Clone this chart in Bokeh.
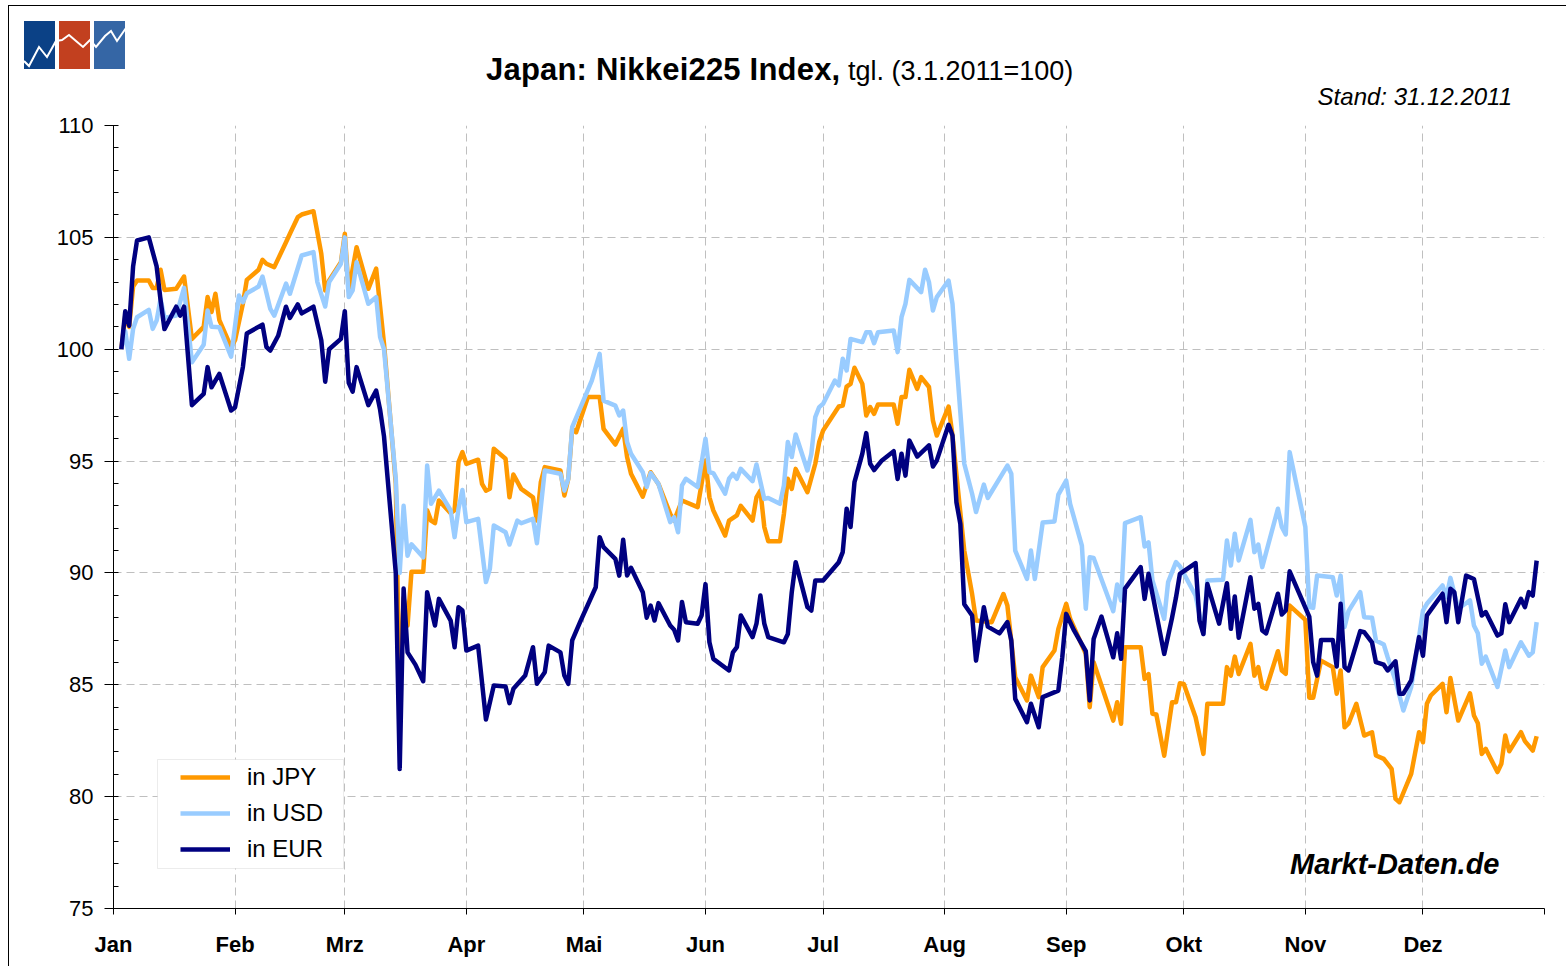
import pandas as pd
from bokeh.plotting import figure
from bokeh.layouts import column, row
from bokeh.models import (Range1d, FixedTicker, Label, Legend, LegendItem,
                          BoxAnnotation, Div, Spacer)
from bokeh.embed import file_html
from bokeh.resources import INLINE

# ---------------- data (day offset from 1 Jan 2011, index 3.1.2011 = 100) ----------------
months = ["Jan", "Feb", "Mrz", "Apr", "Mai", "Jun", "Jul", "Aug", "Sep", "Okt", "Nov", "Dez"]
y_ticks = [75, 80, 85, 90, 95, 100, 105, 110]
series_names = ["in JPY", "in USD", "in EUR"]

jpy_day = [2, 3, 4, 5, 6, 9, 10, 11, 12, 13,
           16, 18, 20, 23, 24, 25, 26, 27, 30, 31,
           33, 34, 37, 38, 39, 41, 44, 45, 47, 48,
           51, 53, 54, 55, 58, 59, 60, 62, 65, 67,
           69, 72, 73, 74, 75, 76, 79, 80, 81, 82,
           83, 86, 87, 88, 89, 90, 93, 94, 95, 96,
           97, 100, 101, 102, 104, 107, 108, 109, 110, 114,
           115, 116, 117, 118, 121, 124, 125, 128, 130, 131,
           132, 135, 137, 139, 142, 143, 145, 149, 151, 152,
           153, 156, 157, 159, 160, 163, 164, 165, 166, 167,
           170, 171, 172, 173, 174, 177, 179, 180, 181, 185,
           186, 187, 188, 189, 191, 192, 193, 194, 195, 199,
           200, 201, 202, 203, 205, 206, 208, 209, 210, 213,
           214, 215, 217, 219, 220, 224, 227, 228, 230, 233,
           234, 236, 237, 240, 241, 243, 244, 248, 249, 250,
           255, 256, 257, 258, 262, 263, 264, 265, 266, 268,
           270, 271, 272, 273, 276, 278, 279, 283, 284, 285,
           286, 287, 290, 291, 292, 293, 294, 297, 298, 299,
           300, 304, 305, 306, 308, 311, 312, 313, 314, 315,
           317, 319, 321, 322, 324, 326, 327, 328, 331, 333,
           334, 335, 336, 339, 340, 341, 343, 346, 347, 348,
           349, 350, 353, 354, 355, 356, 359, 360, 362, 363]
jpy_val = [100.0, 101.5, 101.0, 102.8, 103.07, 103.07, 102.74, 102.74, 103.55, 102.65,
           102.7, 103.25, 100.46, 101.0, 102.33, 101.66, 102.48, 101.3, 100.09, 100.4,
           102.03, 103.1, 103.55, 104.0, 103.82, 103.67, 104.78, 105.16, 105.9, 106.02,
           106.17, 104.27, 102.62, 103.07, 103.89, 105.16, 102.62, 104.56, 102.7, 103.6,
           100.24, 94.0, 84.1, 88.9, 87.65, 90.05, 90.05, 92.8, 92.34, 92.23,
           93.24, 92.67, 92.8, 94.95, 95.4, 94.88, 95.06, 93.98, 93.68, 93.76,
           95.55, 95.1, 93.38, 94.4, 93.76, 93.38, 92.34, 94.06, 94.73, 94.58,
           93.46, 94.21, 96.44, 96.29, 97.86, 97.86, 96.44, 95.74, 96.44, 95.18,
           94.43, 93.41, 94.5, 93.98, 92.64, 92.34, 93.24, 92.94, 95.03, 93.38,
           92.79, 91.67, 92.34, 92.57, 93.0, 92.34, 93.38, 93.68, 92.05, 91.42,
           91.42, 92.64, 94.21, 93.76, 94.65, 93.61, 94.88, 95.85, 96.37, 97.44,
           97.48, 98.33, 98.45, 99.17, 98.45, 97.04, 97.41, 97.11, 97.53, 97.53,
           96.67, 97.86, 97.86, 99.08, 98.23, 98.75, 98.31, 96.82, 96.14, 97.44,
           96.14, 94.4, 91.0, 89.06, 87.87, 87.8, 89.06, 88.54, 85.34, 84.3,
           85.41, 84.45, 85.79, 86.53, 87.5, 88.62, 87.95, 86.38, 84.0, 86.01,
           83.4, 84.22, 83.26, 86.68, 86.68, 85.26, 85.48, 83.7, 83.67, 81.83,
           84.22, 84.22, 85.07, 85.04, 83.55, 81.91, 84.15, 84.15, 85.79, 85.41,
           86.26, 85.48, 86.83, 85.41, 85.79, 84.9, 84.82, 86.5, 85.64, 85.49,
           88.54, 87.9, 84.42, 84.42, 86.08, 85.79, 84.6, 85.64, 83.1, 83.26,
           84.15, 82.73, 82.88, 81.84, 81.69, 81.24, 79.9, 79.75, 81.02, 82.88,
           82.43, 84.15, 84.52, 85.04, 83.77, 85.3, 83.4, 84.62, 83.63, 83.28,
           81.91, 82.14, 81.1, 81.47, 82.73, 82.03, 82.88, 82.48, 82.06, 82.7]

usd_day = [2, 3, 4, 5, 6, 9, 10, 11, 12, 13,
           16, 18, 20, 23, 24, 25, 27, 30, 32, 33,
           34, 37, 38, 40, 41, 44, 45, 48, 51, 52,
           54, 55, 58, 59, 60, 61, 62, 65, 67, 68,
           69, 72, 73, 74, 75, 76, 79, 80, 81, 83,
           86, 87, 88, 89, 90, 93, 95, 96, 97, 100,
           101, 103, 104, 107, 108, 110, 114, 115, 116, 117,
           122, 124, 125, 128, 129, 130, 131, 132, 135, 136,
           137, 139, 142, 143, 144, 145, 146, 149, 151, 152,
           153, 156, 157, 158, 159, 160, 163, 164, 166, 167,
           170, 171, 172, 173, 174, 177, 178, 179, 180, 181,
           184, 185, 186, 187, 188, 191, 192, 193, 194, 195,
           199, 200, 201, 202, 203, 206, 207, 208, 209, 210,
           213, 214, 215, 217, 219, 220, 222, 223, 228, 229,
           230, 233, 234, 235, 237, 240, 241, 243, 244, 247,
           248, 249, 250, 255, 256, 257, 258, 262, 263, 264,
           265, 268, 269, 271, 272, 276, 278, 279, 283, 284,
           285, 286, 287, 290, 291, 292, 293, 297, 298, 299,
           300, 304, 305, 306, 307, 311, 312, 313, 314, 315,
           318, 319, 321, 322, 324, 325, 327, 329, 331, 333,
           334, 335, 339, 340, 341, 343, 346, 347, 348, 349,
           350, 353, 355, 356, 359, 361, 362, 363]
usd_val = [100.0, 100.8, 99.57, 100.91, 101.43, 101.76, 100.91, 101.28, 102.25, 101.4,
           101.5, 102.74, 99.42, 100.2, 101.73, 101.0, 100.98, 99.67, 102.4, 102.1,
           102.5, 102.8, 103.25, 101.8, 101.5, 102.93, 102.48, 104.19, 104.34, 103.0,
           101.91, 103.0, 103.82, 105.0, 102.33, 102.63, 103.89, 102.03, 102.33, 100.54,
           100.0, 94.2, 90.0, 93.0, 90.77, 91.28, 90.7, 94.8, 93.09, 93.68,
           92.79, 91.6, 92.87, 93.71, 92.27, 92.42, 89.59, 90.18, 92.12, 91.82,
           91.27, 92.34, 92.22, 92.42, 91.33, 94.58, 94.43, 93.68, 94.21, 96.52,
           98.6, 99.79, 97.7, 97.48, 97.04, 97.26, 95.85, 95.33, 94.5, 93.84,
           94.46, 93.98, 92.27, 92.49, 91.82, 93.91, 94.21, 93.84, 96.0, 94.5,
           94.46, 93.54, 94.21, 94.43, 94.21, 94.65, 94.1, 94.85, 93.31, 93.35,
           93.09, 93.91, 95.85, 95.18, 96.19, 94.58, 95.33, 96.97, 97.41, 97.56,
           98.6, 98.38, 99.57, 99.05, 100.46, 100.32, 100.76, 100.76, 100.27, 100.76,
           100.84, 99.87, 101.43, 102.03, 103.1, 102.55, 103.55, 103.0, 101.73, 102.33,
           103.07, 102.03, 99.5, 94.88, 93.54, 92.72, 93.95, 93.35, 94.8, 94.43,
           91.0, 89.73, 91.0, 89.73, 92.25, 92.3, 93.5, 94.13, 93.09, 91.22,
           88.4, 90.7, 90.67, 88.29, 89.48, 88.77, 92.23, 92.49, 91.18, 91.37,
           89.66, 87.95, 89.59, 90.48, 90.3, 88.99, 87.27, 89.66, 89.69, 91.45,
           90.33, 91.75, 90.56, 92.37, 90.93, 91.27, 90.26, 92.87, 92.05, 91.72,
           95.4, 92.05, 88.47, 88.44, 89.88, 89.81, 88.99, 89.88, 87.58, 88.29,
           89.14, 88.02, 88.0, 86.98, 86.8, 86.23, 85.19, 83.85, 84.9, 87.13,
           88.32, 88.62, 89.44, 88.92, 89.78, 88.4, 88.77, 87.65, 87.3, 85.94,
           86.26, 84.9, 86.53, 85.79, 86.9, 86.3, 86.45, 87.8]

eur_day = [2, 3, 4, 5, 6, 9, 11, 12, 13, 16,
           17, 18, 20, 23, 24, 25, 27, 30, 31, 33,
           34, 38, 39, 40, 42, 44, 45, 47, 48, 51,
           53, 54, 55, 58, 59, 60, 61, 62, 65, 67,
           68, 69, 72, 73, 74, 75, 77, 79, 80, 82,
           83, 86, 87, 88, 89, 90, 93, 95, 97, 100,
           101, 102, 105, 107, 108, 110, 111, 114, 115, 116,
           117, 119, 123, 124, 125, 128, 129, 130, 131, 132,
           135, 136, 137, 138, 139, 142, 143, 144, 145, 146,
           149, 150, 151, 152, 153, 157, 158, 159, 160, 163,
           164, 165, 166, 167, 171, 172, 173, 174, 177, 178,
           179, 181, 185, 186, 187, 188, 189, 191, 192, 193,
           194, 196, 199, 200, 201, 202, 203, 205, 208, 209,
           210, 213, 214, 215, 216, 217, 219, 220, 222, 223,
           226, 228, 229, 230, 233, 234, 236, 237, 241, 242,
           243, 245, 248, 249, 250, 252, 255, 256, 257, 258,
           262, 263, 264, 268, 270, 271, 272, 276, 277, 278,
           279, 282, 284, 285, 286, 287, 290, 291, 292, 293,
           294, 297, 298, 299, 300, 305, 306, 307, 308, 311,
           312, 313, 314, 315, 318, 319, 321, 322, 324, 325,
           327, 328, 329, 331, 333, 334, 335, 339, 340, 341,
           342, 343, 345, 347, 349, 350, 353, 354, 355, 356,
           359, 360, 361, 362, 363]
eur_val = [100.0, 101.7, 101.05, 103.7, 104.86, 105.0, 103.7, 102.2, 100.9, 101.9,
           101.5, 101.9, 97.5, 98.0, 99.2, 98.3, 98.9, 97.26, 97.4, 99.2,
           100.7, 101.1, 100.1, 99.94, 100.6, 101.9, 101.4, 102.0, 101.6, 101.9,
           100.4, 98.55, 100.0, 100.46, 101.7, 98.5, 98.1, 99.2, 97.5, 98.15,
           97.3, 96.1, 90.0, 81.24, 89.3, 86.45, 85.9, 85.16, 89.14, 87.65,
           88.84, 87.87, 86.68, 88.47, 88.32, 86.53, 86.75, 83.45, 84.97, 84.92,
           84.18, 84.82, 85.41, 86.68, 85.05, 85.56, 86.75, 86.45, 85.41, 85.04,
           86.98, 87.8, 89.36, 91.6, 91.15, 90.63, 89.88, 91.48, 89.88, 90.23,
           89.14, 88.0, 88.54, 87.87, 88.65, 87.65, 87.46, 86.98, 88.7, 87.8,
           87.73, 88.1, 89.5, 86.9, 86.16, 85.64, 86.45, 86.68, 88.1, 87.13,
           87.73, 88.99, 87.73, 87.13, 86.9, 87.27, 89.14, 90.48, 88.47, 88.32,
           89.66, 89.66, 90.48, 90.93, 92.87, 92.05, 94.06, 95.33, 96.25, 94.88,
           94.6, 95.03, 95.44, 94.2, 95.33, 94.35, 95.92, 95.2, 95.7, 94.76,
           95.03, 96.62, 96.14, 93.16, 92.19, 88.6, 88.1, 86.08, 88.47, 87.6,
           87.3, 87.8, 86.98, 84.37, 83.33, 84.15, 83.1, 84.45, 84.74, 86.23,
           88.17, 87.43, 86.5, 84.3, 87.05, 88.05, 86.23, 87.3, 86.16, 89.3,
           90.26, 88.84, 89.96, 86.38, 88.0, 88.9, 89.96, 90.44, 87.87, 87.27,
           89.5, 87.73, 89.54, 87.5, 88.95, 87.1, 89.81, 88.4, 88.62, 87.43,
           87.3, 89.07, 88.14, 88.32, 90.07, 88.05, 86.01, 85.41, 87.0, 87.0,
           85.82, 88.62, 85.79, 85.64, 87.4, 87.35, 86.9, 86.01, 85.9, 85.64,
           86.05, 84.6, 84.6, 85.2, 87.13, 86.3, 88.1, 89.07, 87.8, 89.29,
           89.14, 87.8, 89.88, 89.73, 88.1, 88.25, 87.2, 87.3, 88.6, 87.8,
           88.84, 88.47, 89.14, 88.99, 90.55]

assert len(jpy_day) == len(jpy_val)
assert len(usd_day) == len(usd_val)
assert len(eur_day) == len(eur_val)

YEAR_START = pd.Timestamp("2011-01-01")
YEAR_END = pd.Timestamp("2012-01-01")


def to_dates(days):
    return [YEAR_START + pd.Timedelta(days=d) for d in days]


# ---------------- layout (page pixels) ----------------
PAGE_W = 1566
HEAD_H = 112             # header strip (logo, title, date)
FIG_LEFT = 9             # 8px white + 1px black border line
FRAME_L, FRAME_R, FRAME_T, FRAME_B = 113, 1544, 125, 908
W = PAGE_W - FIG_LEFT
H = 966 - HEAD_H
ML = FRAME_L - FIG_LEFT
MR = PAGE_W - FRAME_R
MT = FRAME_T - HEAD_H
MB = H - (FRAME_B - HEAD_H)
FW, FH = FRAME_R - FRAME_L, FRAME_B - FRAME_T
Y_MIN, Y_MAX = 75, 110
FONT = "Liberation Sans"

start_ms = YEAR_START.value // 10**6
end_ms = YEAR_END.value // 10**6


def cx(px):  # page pixel -> data x (ms)
    return start_ms + (px - FRAME_L) / FW * (end_ms - start_ms)


def cy(py):  # page pixel -> data y
    return Y_MAX - (py - FRAME_T) / FH * (Y_MAX - Y_MIN)


p = figure(width=W, height=H, x_axis_type="datetime",
           x_range=Range1d(YEAR_START, YEAR_END), y_range=Range1d(Y_MIN, Y_MAX),
           output_backend="svg", toolbar_location=None,
           min_border_left=ML, min_border_right=MR, min_border_top=MT, min_border_bottom=MB)
p.outline_line_color = None
p.background_fill_color = "white"
p.border_fill_color = "white"

# x axis: month starts
month_ts = list(pd.date_range(YEAR_START, YEAR_END, freq="MS"))
month_ms = [int(t.value // 10**6) for t in month_ts]
xt = FixedTicker(ticks=month_ms)
p.xaxis.ticker = xt
p.xgrid.ticker = xt
p.xaxis.major_label_overrides = {m: (months[i] if i < len(months) else "")
                                 for i, m in enumerate(month_ms)}
p.xaxis.major_label_text_font = FONT
p.xaxis.major_label_text_font_size = "22px"
p.xaxis.major_label_text_font_style = "bold"
p.xaxis.major_label_text_color = "black"
p.xaxis.major_tick_out = 6
p.xaxis.major_tick_in = 0
p.xaxis.minor_tick_out = 0
p.xaxis.minor_tick_in = 0
p.xaxis.major_label_standoff = 17
p.xaxis.axis_line_color = "black"
p.xaxis.major_tick_line_color = "black"

yt = FixedTicker(ticks=y_ticks, minor_ticks=list(range(Y_MIN, Y_MAX + 1)))
p.yaxis.ticker = yt
p.ygrid.ticker = yt
p.yaxis.major_label_text_font = FONT
p.yaxis.major_label_text_font_size = "22px"
p.yaxis.major_label_text_color = "black"
p.yaxis.major_tick_out = 9
p.yaxis.major_tick_in = 4
p.yaxis.minor_tick_out = 0
p.yaxis.minor_tick_in = 5
p.yaxis.major_label_standoff = 11
p.yaxis.axis_line_color = "black"
p.yaxis.major_tick_line_color = "black"
p.yaxis.minor_tick_line_color = "black"

for g in (p.xgrid, p.ygrid):
    g.grid_line_color = "#BFBFBF"
    g.grid_line_dash = "8 5"
    g.grid_line_width = 1

# series
r_jpy = p.line(to_dates(jpy_day), jpy_val, line_color="#FF9900", line_width=4.5, line_join="round")
r_usd = p.line(to_dates(usd_day), usd_val, line_color="#99CCFF", line_width=4.5, line_join="round")
r_eur = p.line(to_dates(eur_day), eur_val, line_color="#000080", line_width=4.5, line_join="round")

# legend box (drawn separately so its inner padding can differ per side)
p.add_layout(BoxAnnotation(left=cx(157), right=cx(343), top=cy(759), bottom=cy(868),
                           fill_color="white", fill_alpha=1,
                           line_color="#BFBFBF", line_width=1))
legend = Legend(items=[LegendItem(label=series_names[0], renderers=[r_jpy]),
                       LegendItem(label=series_names[1], renderers=[r_usd]),
                       LegendItem(label=series_names[2], renderers=[r_eur])],
                location=(180 - FRAME_L, FRAME_B - 849 - 14))
legend.label_text_font = FONT
legend.label_text_font_size = "24px"
legend.label_text_color = "black"
legend.glyph_width = 50
legend.glyph_height = 28
legend.label_height = 28
legend.spacing = 8
legend.padding = 0
legend.margin = 0
legend.label_standoff = 17
legend.border_line_color = None
legend.background_fill_alpha = 0
p.add_layout(legend)

p.add_layout(Label(x=cx(1499), y=cy(863), text="Markt-Daten.de", text_align="right",
                   text_baseline="alphabetic", text_font=FONT, text_font_style="bold italic",
                   text_font_size="29px", text_color="black"))

# ---------------- header strip: border, logo, title, date ----------------
logo_svg = (
    '<svg width="104" height="50" xmlns="http://www.w3.org/2000/svg" style="position:absolute;left:24px;top:21px">'
    '<rect x="0" y="0" width="31" height="48" fill="#0B4186"/>'
    '<rect x="35" y="0" width="31" height="48" fill="#C2401F"/>'
    '<rect x="70" y="0" width="31" height="48" fill="#3566A5"/>'
    '<polyline points="0,40 5,45 15,26 23,36 32,20 38,19 45,14 52,20 59,26 66,19 72,26 81,15 87,10 93,20 102,7" '
    'fill="none" stroke="white" stroke-width="2"/>'
    '</svg>'
)
header_html = (
    f'<div style="position:relative;width:{PAGE_W}px;height:{HEAD_H}px;'
    f'font-family:\'{FONT}\',Arial,sans-serif;color:black;">'
    '<div style="position:absolute;left:8px;top:5px;width:1558px;height:1px;background:black"></div>'
    f'<div style="position:absolute;left:8px;top:5px;width:1px;height:{HEAD_H - 5}px;background:black"></div>'
    + logo_svg +
    '<div style="position:absolute;left:486px;top:54px;white-space:nowrap;line-height:1;">'
    '<span style="font-weight:bold;font-size:31px;letter-spacing:0.2px">Japan: Nikkei225 Index,</span>'
    '<span style="font-size:27px"> tgl. (3.1.2011=100)</span></div>'
    '<div style="position:absolute;right:54px;top:85px;white-space:nowrap;line-height:1;'
    'font-style:italic;font-size:24px">Stand: 31.12.2011</div>'
    '</div>'
)
header = Div(text=header_html, width=PAGE_W, height=HEAD_H, margin=(0, 0, 0, 0))
left_gap = Spacer(width=8, height=H, margin=(0, 0, 0, 0))
left_rule = Div(text="", width=1, height=H, margin=(0, 0, 0, 0),
                styles={"background-color": "black"})
p.margin = (0, 0, 0, 0)
layout = column(header, row(left_gap, left_rule, p, spacing=0, margin=(0, 0, 0, 0)),
                spacing=0, margin=(0, 0, 0, 0))

open("out.html", "w").write(file_html(layout, INLINE))
